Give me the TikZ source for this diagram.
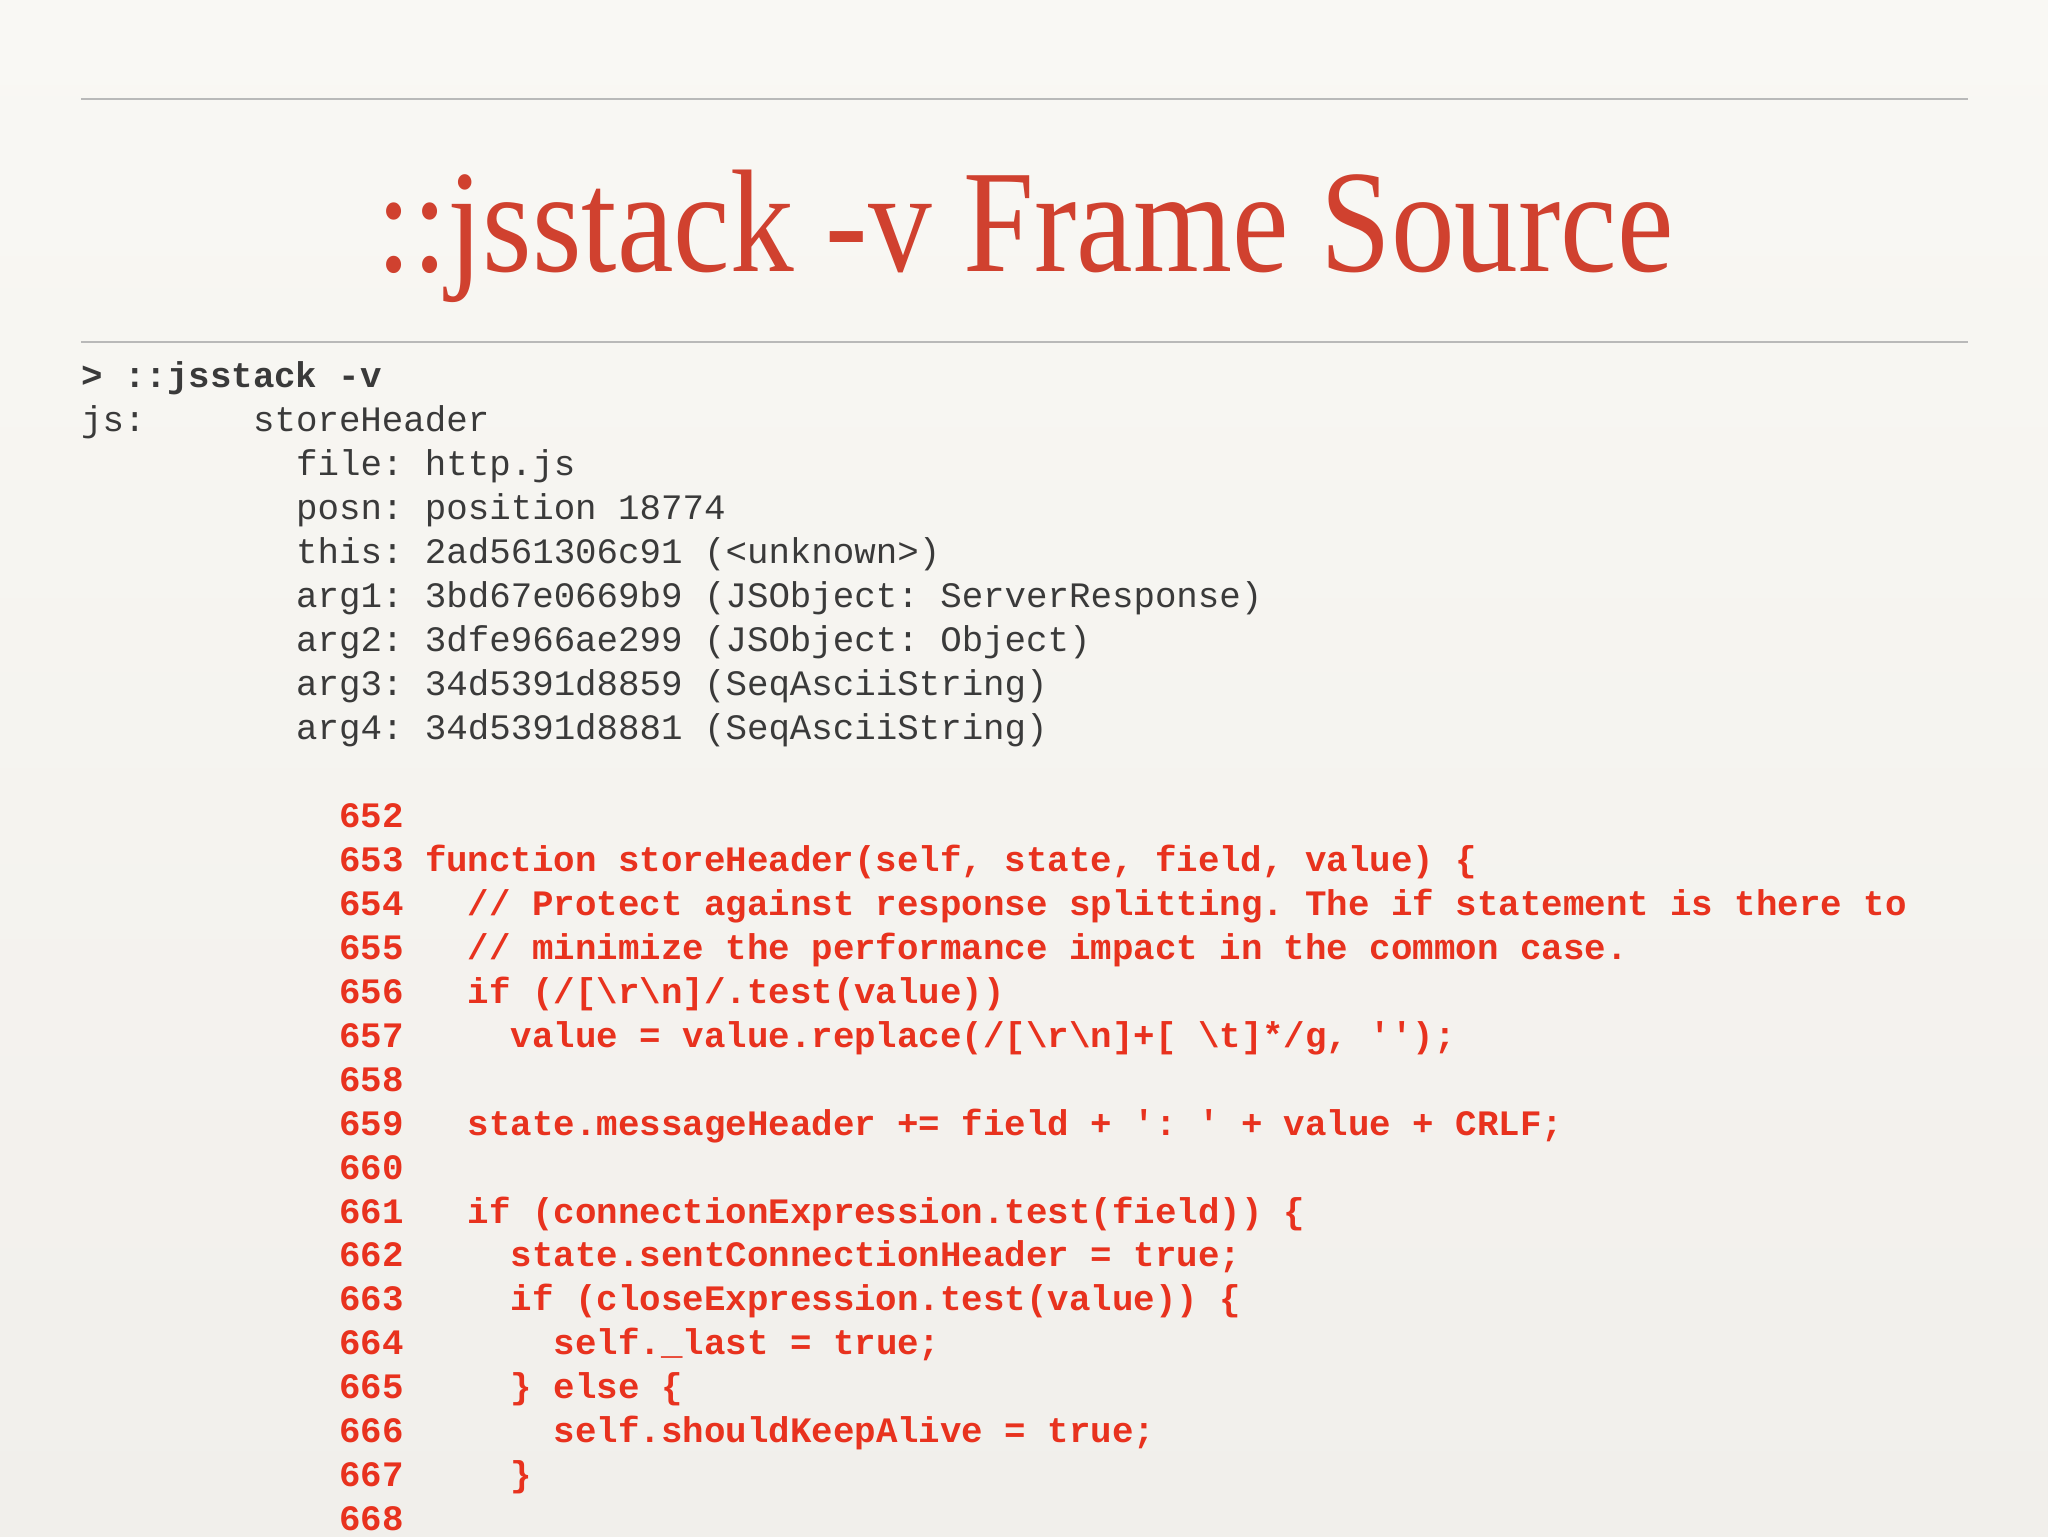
\documentclass[tikz,border=0pt]{standalone}
\usepackage{fontspec}
\setmainfont{Liberation Serif}
\setmonofont{Liberation Mono}
\definecolor{titlered}{HTML}{D0412F}
\definecolor{codered}{HTML}{E8321E}
\definecolor{graytxt}{HTML}{3A3A3A}
\definecolor{bgtop}{HTML}{F9F8F4}
\definecolor{bgbot}{HTML}{F1EFEB}
\tikzset{ln/.style={anchor=base west,inner sep=0pt,font=\fontsize{27.4}{30}\ttfamily}}
\newcommand{\gl}[3]{\node[ln,text=graytxt] (g#1#2) at ({62+#2*16.45},{297+#1*33.65}) {#3};}
\newcommand{\rl}[3]{\node[ln,text=codered,font=\fontsize{27.4}{30}\ttfamily\bfseries] (r#1#2) at ({62+#2*16.45},{297+#1*33.65}) {#3};}
\begin{document}
\begin{tikzpicture}[x=1pt,y=-1pt]
\shade[top color=bgtop,bottom color=bgbot] (0,0) rectangle (1568,1176);
\useasboundingbox (0,0) rectangle (1568,1176);
\draw[line width=1.2pt,gray!55] (62,76) -- (1507,76);
\draw[line width=1.2pt,gray!55] (62,262) -- (1507,262);
\node[text=titlered,font=\fontsize{112}{120}\selectfont,anchor=base] (title) at (785,208) {\scalebox{0.87}[1]{::jsstack -v Frame Source}};
\node[ln,text=graytxt,font=\fontsize{27.4}{30}\ttfamily\bfseries] (g0) at (62,297) {> ::jsstack -v};
\gl{1}{0}{js:}
\gl{1}{8}{storeHeader}
\gl{2}{10}{file: http.js}
\gl{3}{10}{posn: position 18774}
\gl{4}{10}{this: 2ad561306c91 (<unknown>)}
\gl{5}{10}{arg1: 3bd67e0669b9 (JSObject: ServerResponse)}
\gl{6}{10}{arg2: 3dfe966ae299 (JSObject: Object)}
\gl{7}{10}{arg3: 34d5391d8859 (SeqAsciiString)}
\gl{8}{10}{arg4: 34d5391d8881 (SeqAsciiString)}
\rl{10}{12}{652}
\rl{11}{12}{653}\rl{11}{16}{function storeHeader(self, state, field, value) \{}
\rl{12}{12}{654}\rl{12}{18}{// Protect against response splitting. The if statement is there to}
\rl{13}{12}{655}\rl{13}{18}{// minimize the performance impact in the common case.}
\rl{14}{12}{656}\rl{14}{18}{if (/[\textbackslash r\textbackslash n]/.test(value))}
\rl{15}{12}{657}\rl{15}{20}{value = value.replace(/[\textbackslash r\textbackslash n]+[ \textbackslash t]*/g, '');}
\rl{16}{12}{658}
\rl{17}{12}{659}\rl{17}{18}{state.messageHeader += field + ': ' + value + CRLF;}
\rl{18}{12}{660}
\rl{19}{12}{661}\rl{19}{18}{if (connectionExpression.test(field)) \{}
\rl{20}{12}{662}\rl{20}{20}{state.sentConnectionHeader = true;}
\rl{21}{12}{663}\rl{21}{20}{if (closeExpression.test(value)) \{}
\rl{22}{12}{664}\rl{22}{22}{self.\_last = true;}
\rl{23}{12}{665}\rl{23}{20}{\} else \{}
\rl{24}{12}{666}\rl{24}{22}{self.shouldKeepAlive = true;}
\rl{25}{12}{667}\rl{25}{20}{\}}
\rl{26}{12}{668}
\end{tikzpicture}
\end{document}
